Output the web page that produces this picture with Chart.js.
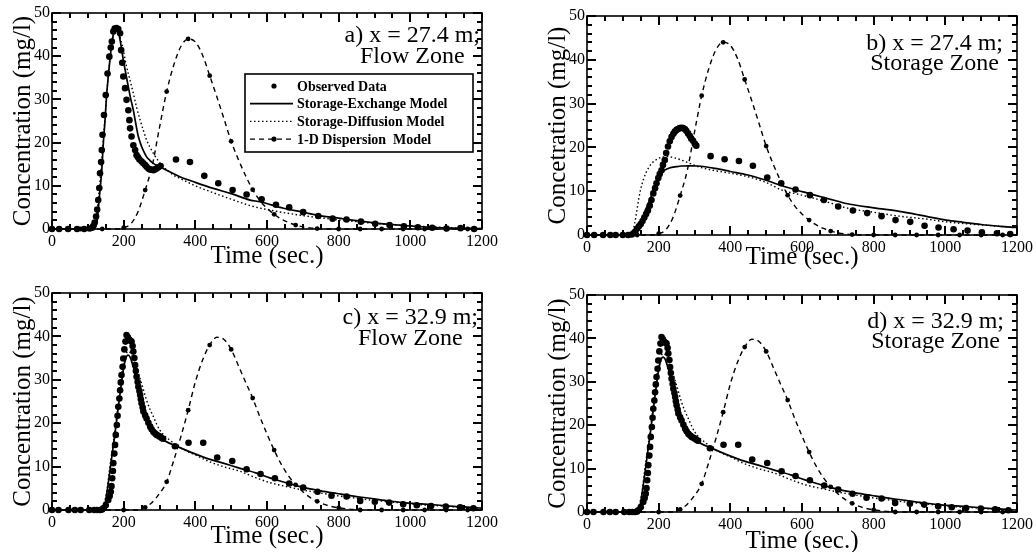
<!DOCTYPE html>
<html>
<head>
<meta charset="utf-8">
<script src="https://cdn.jsdelivr.net/npm/chart.js@4.4.1/dist/chart.umd.min.js"></script>
<style>
  body { margin: 0; background: #fff; }
  canvas { position: absolute; }
</style>
</head>
<body>
<canvas id="panelA" width="518" height="276" style="left:0;top:0"></canvas>
<canvas id="panelB" width="518" height="276" style="left:518px;top:0"></canvas>
<canvas id="panelC" width="518" height="276" style="left:0;top:276px"></canvas>
<canvas id="panelD" width="518" height="276" style="left:518px;top:276px"></canvas>
<script>
// x = 27.4 m, flow zone
const aObsT = [0, 20, 45, 70, 90, 105, 112, 115, 119, 123, 126, 129, 132, 134, 137, 139, 141, 145, 150, 155, 160, 164, 167, 171, 175, 180, 185, 190, 193, 196, 199, 204, 208, 213, 216, 218, 222, 227, 232, 236, 240, 244, 250, 255, 260, 264, 269, 273, 278, 283, 287, 292, 297, 303,
  346, 385, 425, 464, 504, 543, 585, 625, 662, 701, 743, 783, 822, 862, 902, 942, 982, 1021, 1061, 1101, 1140, 1178];
const aObsC = [0, 0, 0, 0, 0, 0.1, 0.3, 0.7, 1.5, 2.9, 4.5, 6.7, 9.5, 12.9, 15.5, 18.3, 21.8, 26.4, 31, 36, 39.9, 42, 43.4, 45.7, 46.4, 46.5, 46.3, 45.3, 41.4, 38.5, 35.3, 32.6, 29.9, 27.5, 25.2, 23.3, 21.4, 19.4, 18.3, 17.1, 16.6, 16.1, 15.6, 15.2, 14.8, 14.4, 14, 13.8, 13.7, 13.6, 13.8, 14, 14.3, 14.6,
  16.1, 15.5, 12.3, 10.6, 9, 8, 6.9, 5.6, 5, 3.9, 3, 2.4, 2.2, 1.7, 1.2, 0.9, 0.6, 0.4, 0.3, 0.1, 0.2, 0];
const aExchT = [0, 115, 120, 125, 129, 134, 139, 143, 148, 152, 157, 162, 167, 172, 177, 181, 186, 192, 199, 206, 213, 220, 227, 234, 241, 250, 257, 264, 273, 283, 301, 330, 357, 400, 450, 500, 553, 580, 646, 700, 739, 800, 832, 900, 925, 1000, 1018, 1100, 1200];
const aExchC = [0, 0, 0.3, 1.5, 4.4, 9, 13.7, 19.5, 25.2, 30.5, 35.3, 39.5, 43, 45.3, 46.4, 46.5, 45.5, 42.8, 39.1, 36, 32.9, 30, 27.5, 24.3, 21.4, 19.1, 17.8, 16.7, 15.9, 15.2, 14.4, 13.2, 12.1, 10.8, 9.4, 8.2, 6.7, 6.3, 4.8, 3.9, 3.2, 2.5, 2.1, 1.4, 1.2, 0.7, 0.6, 0.25, 0.1];
const aDiffT = [0, 110, 115, 120, 125, 130, 135, 140, 145, 150, 155, 160, 165, 170, 175, 180, 186, 193, 200, 208, 218, 227, 236, 246, 255, 264, 273, 283, 294, 306, 320, 339, 370, 400, 450, 500, 553, 600, 646, 700, 739, 800, 850, 900, 950, 1000, 1050, 1100, 1150, 1200];
const aDiffC = [0, 0, 0.4, 1.5, 3.8, 7.5, 12, 17, 22.5, 28, 33.5, 38, 41.8, 44.5, 46, 46.3, 45.5, 43.5, 41, 37.6, 34.4, 31.4, 28.2, 25.2, 22.8, 20.6, 19, 17.5, 16.1, 14.8, 13.7, 12.5, 11.2, 10, 8.4, 6.9, 5.4, 4.5, 3.8, 3.1, 2.7, 2.1, 1.7, 1.3, 1, 0.75, 0.55, 0.35, 0.2, 0.1];

// x = 27.4 m, storage zone
const bObsT = [0, 20, 45, 65, 80, 100, 115, 125, 130, 135, 140, 145, 150, 155, 160, 165, 170, 175, 180, 185, 190, 194, 199, 203, 208, 212, 217, 221, 226, 231, 236, 241, 245, 250, 254, 259, 264, 268, 273, 277, 282, 287, 291, 296, 301, 305,
  345, 384, 424, 463, 503, 542, 582, 622, 661, 701, 742, 782, 822, 861, 902, 942, 981, 1023, 1062, 1102, 1144, 1181];
const bObsC = [0, 0, 0, 0, 0, 0, 0, 0.1, 0.4, 0.8, 1.5, 2, 2.5, 3.2, 4, 4.8, 5.6, 6.7, 8, 9.5, 10.7, 11.8, 13, 13.9, 14.8, 16, 17.1, 18.7, 20.2, 21.4, 22.4, 23.1, 23.6, 24, 24.2, 24.4, 24.5, 24.4, 24.2, 23.8, 23.2, 22.6, 22, 21.5, 20.8, 20.4,
  18, 17.3, 16.9, 15.8, 13.1, 11.8, 10.4, 9.1, 8, 6.5, 5.6, 5, 4.3, 3.4, 3, 2.1, 1.7, 1.3, 1, 0.6, 0.4, 0.2];
const bExchT = [0, 120, 130, 143, 150, 160, 171, 180, 189, 199, 208, 217, 230, 250, 264, 290, 310, 357, 400, 449, 500, 542, 600, 650, 700, 723, 800, 872, 900, 950, 1002, 1050, 1100, 1150, 1187, 1200];
const bExchC = [0, 0, 0.3, 1.9, 3, 5, 7.2, 9, 11, 12.8, 14.1, 14.8, 15.3, 15.6, 15.75, 15.8, 15.75, 15.2, 14.5, 13.7, 12.5, 11.3, 9.9, 8.8, 7.7, 7.2, 6.2, 5.4, 5, 4.2, 3.4, 2.9, 2.4, 2, 1.75, 1.7];
const bDiffT = [0, 120, 125, 130, 135, 140, 145, 150, 158, 165, 171, 180, 190, 199, 212, 226, 245, 264, 285, 310, 350, 400, 449, 500, 542, 600, 650, 700, 723, 800, 872, 950, 1002, 1100, 1200];
const bDiffC = [0, 0, 0.3, 1.5, 3.5, 6, 8.5, 10.5, 12.8, 14.3, 15.2, 16.3, 17, 17.5, 17.8, 17.9, 17.6, 17.1, 16.4, 15.6, 14.8, 14.1, 13.3, 12, 10.3, 9.1, 8, 6.8, 6.2, 5.2, 4.3, 3.6, 3, 2.3, 1.7];

// x = 32.9 m (flow and storage zone records coincide)
const cObsT = [0, 18, 46, 64, 80, 104, 118, 126, 134, 140, 143, 150, 157, 161, 164, 166, 168, 170, 171, 174, 176, 178, 181, 183, 185, 188, 190, 192, 194, 197, 199, 202, 205, 208, 212, 216, 219, 222, 225, 227, 230, 232, 234, 236, 239, 241, 244, 246, 248, 250, 253, 255, 260, 264, 269, 274, 278, 283, 288, 292, 297, 301, 306, 310,
  343, 381, 422, 461, 503, 543, 582, 622, 662, 701, 741, 780, 822, 860, 901, 941, 980, 1018, 1058, 1099, 1139, 1176];
const cObsC = [0, 0, 0, 0, 0, 0, 0, 0, 0, 0.1, 0.4, 1.1, 2.3, 3.2, 4.2, 5.5, 7.3, 9, 10.8, 13, 15, 17.3, 19.6, 21.7, 23.8, 25.7, 27.6, 29.4, 31.1, 33, 34.9, 37, 38.8, 40.3, 39.8, 39.2, 39, 38.8, 37.8, 36.5, 35, 33.4, 32, 30.7, 29.5, 28.4, 27.4, 26.5, 25.5, 24.6, 23.6, 22.7, 21.8, 21.1, 20.1, 19.2, 18.6, 18, 17.6, 17.3, 17.1, 16.9, 16.6, 16.4,
  14.7, 15.5, 15.5, 12.1, 11.3, 9.4, 8.3, 7.3, 6.1, 5.2, 4.2, 3.3, 3.1, 2.1, 1.9, 1.7, 1.3, 1.1, 0.9, 0.8, 0.6, 0.4];
const cExchT = [0, 140, 145, 148, 155, 162, 169, 176, 183, 190, 195, 199, 204, 209, 213, 218, 222, 227, 234, 241, 248, 255, 262, 269, 276, 283, 292, 301, 320, 339, 385, 432, 478, 525, 571, 608, 627, 701, 750, 795, 850, 888, 930, 980, 1030, 1074, 1130, 1185, 1200];
const cExchC = [0, 0, 0.6, 1.5, 5, 9.2, 13.5, 17.7, 22.3, 26.9, 30, 32.3, 34.4, 35.5, 35.7, 35.2, 34.3, 33, 30.8, 28.4, 26.2, 24.2, 22, 20, 18.9, 18, 17.2, 16.5, 15.7, 15, 13.4, 11.9, 10.8, 9.6, 8.5, 7.4, 6.9, 5.2, 4.4, 3.8, 3.1, 2.7, 2.2, 1.7, 1.4, 1.15, 0.8, 0.5, 0.45];
const cDiffT = [0, 135, 140, 145, 150, 155, 160, 168, 175, 183, 190, 195, 200, 206, 212, 218, 225, 231, 236, 243, 250, 257, 264, 273, 283, 292, 301, 315, 329, 345, 370, 400, 432, 470, 525, 570, 608, 627, 660, 701, 750, 795, 850, 888, 940, 980, 1030, 1074, 1130, 1185, 1200];
const cDiffC = [0, 0, 0.5, 1.5, 3, 5.5, 9, 13.8, 18, 23, 28, 31.5, 34, 35.8, 36.5, 36.3, 35.3, 34, 32.8, 31, 29.2, 27.2, 25.3, 23.3, 21.5, 19.8, 18.4, 17, 16.1, 15, 13.8, 12.7, 11.4, 10.2, 8.9, 7.4, 6.3, 5.9, 5.3, 4.6, 3.9, 3.3, 2.7, 2.3, 1.9, 1.6, 1.2, 1, 0.7, 0.5, 0.45];

// 1-D dispersion model, sampled every 20 s from 0 to 1200 s
const abDisp = [0, 0, 0, 0, 0, 0, 0, 0, 0, 0,
  0.3, 1.2, 4, 9, 14.8, 23.5, 31.8, 38, 42.3, 44, 43.3, 40.3, 35.5, 30.6, 25.5, 20.3, 16.1, 12.4, 9.1, 6.6, 4.8, 3.4, 2.3, 1.5, 0.9, 0.5, 0.25, 0.1,
  0, 0, 0, 0, 0, 0, 0, 0, 0, 0, 0, 0, 0, 0, 0, 0, 0, 0, 0, 0, 0, 0, 0];
const cdDisp = [0, 0, 0, 0, 0, 0, 0, 0, 0, 0, 0, 0, 0,
  0.6, 1.8, 3.8, 6.5, 11.5, 17, 23, 29.5, 34.5, 38, 39.8, 39.3, 37, 33.3, 29.5, 25.8, 21.5, 17.5, 13.8, 10.5, 7.9, 5.8, 4.2, 2.9, 2, 1.3, 0.8, 0.5, 0.3, 0.1,
  0, 0, 0, 0, 0, 0, 0, 0, 0, 0, 0, 0, 0, 0, 0, 0, 0, 0];

const xTicks = { min: 0, max: 1200, step: 200, minor: 50 };
const yTicks = { min: 0, max: 50, step: 10, minor: 2 };
const seriesNames = ['Observed Data', 'Storage-Exchange Model', 'Storage-Diffusion Model', '1-D Dispersion  Model'];

const serif = '"Liberation Serif", "Times New Roman", serif';
Chart.defaults.font.family = serif;
Chart.defaults.color = '#000';

const pts = (ts, cs) => ts.map((t, i) => ({ x: t, y: cs[i] }));
const dispPts = vals => vals.map((v, i) => ({ x: i * 20, y: v }));

// box around the plot with inward ticks on all four sides
const frame = {
  id: 'frame',
  afterDraw(chart, args, opts) {
    const ctx = chart.ctx;
    const a = chart.chartArea;
    const xs = chart.scales.x, ys = chart.scales.y;
    ctx.save();
    ctx.fillStyle = opts.tickColor;
    let t = xTicks.min;
    while (t <= xTicks.max) {
      const px = Math.round(xs.getPixelForValue(t));
      const len = t % xTicks.step === 0 ? 9 : 5;
      ctx.fillRect(px - 1, a.bottom - len, 2, len);
      ctx.fillRect(px - 1, a.top, 2, len);
      t += xTicks.minor;
    }
    let v = yTicks.min;
    while (v <= yTicks.max) {
      const py = Math.round(ys.getPixelForValue(v));
      const len = v % yTicks.step === 0 ? 9 : 5;
      ctx.fillRect(a.left, py - 1, len, 2);
      ctx.fillRect(a.right - len, py - 1, len, 2);
      v += yTicks.minor;
    }
    ctx.strokeStyle = '#000';
    ctx.lineWidth = 1.6;
    ctx.strokeRect(a.left, a.top, a.right - a.left, a.bottom - a.top);
    ctx.restore();
  }
};

// two-line panel caption in the upper right corner
const caption = {
  id: 'caption',
  afterDraw(chart, args, opts) {
    const { ctx, chartArea: a } = chart;
    ctx.save();
    ctx.fillStyle = '#000';
    ctx.font = '24px ' + serif;
    ctx.textBaseline = 'alphabetic';
    const w = ctx.measureText(opts.lines[0]).width;
    const cx = a.right - opts.right - w / 2;
    ctx.textAlign = 'center';
    ctx.fillText(opts.lines[0], cx, a.top + opts.base[0]);
    ctx.fillText(opts.lines[1], cx, a.top + opts.base[1]);
    ctx.restore();
  }
};

// boxed legend inside the plot
const legendBox = {
  id: 'legendBox',
  afterDraw(chart, args, opts) {
    if (!opts.show) return;
    const { ctx, chartArea: a } = chart;
    const L = a.left + opts.dx, T = a.top + opts.dy;
    ctx.save();
    ctx.fillStyle = '#fff';
    ctx.fillRect(L, T, opts.w, opts.h);
    ctx.strokeStyle = '#000';
    ctx.lineWidth = 1.6;
    ctx.strokeRect(L, T, opts.w, opts.h);
    ctx.font = 'bold 14px ' + serif;
    ctx.textBaseline = 'middle';
    chart.data.datasets.forEach((ds, i) => {
      const y = T + 12 + i * 17.7;
      ctx.strokeStyle = '#000';
      if (ds.showLine) {
        ctx.lineWidth = ds.borderWidth;
        ctx.setLineDash(ds.borderDash || []);
        ctx.beginPath();
        ctx.moveTo(L + 5, y);
        ctx.lineTo(L + 48, y);
        ctx.stroke();
        ctx.setLineDash([]);
      }
      if (ds.marker) {
        ctx.fillStyle = '#000';
        ctx.beginPath();
        ctx.arc(L + 29, y, 2.6, 0, Math.PI * 2);
        ctx.fill();
      }
      ctx.fillStyle = '#000';
      ctx.fillText(ds.label, L + 52, y + 1);
    });
    ctx.restore();
  }
};

const panels = [
  { id: 'panelA', obs: pts(aObsT, aObsC), exch: pts(aExchT, aExchC), diff: pts(aDiffT, aDiffC), disp: dispPts(abDisp),
    yTitle: 'Concentration (mg/l)', lines: ['a) x = 27.4 m;', 'Flow Zone'], capRight: 2, capBase: [29, 50],
    pad: { top: 13, right: 36 }, yWidth: 52, xHeight: 47, yTitlePad: 10.5, xTitlePad: 7, legend: true },
  { id: 'panelB', obs: pts(bObsT, bObsC), exch: pts(bExchT, bExchC), diff: pts(bDiffT, bDiffC), disp: dispPts(abDisp),
    yTitle: 'Concetration (mg/l)', lines: ['b) x = 27.4 m;', 'Storage Zone'], capRight: 14, capBase: [34, 54],
    pad: { top: 16, right: 18 }, yWidth: 69, xHeight: 41, yTitlePad: 27.5, xTitlePad: 6.5, legend: false },
  { id: 'panelC', obs: pts(cObsT, cObsC), exch: pts(cExchT, cExchC), diff: pts(cDiffT, cDiffC), disp: dispPts(cdDisp),
    yTitle: 'Concentration (mg/l)', lines: ['c) x = 32.9 m;', 'Flow Zone'], capRight: 4, capBase: [31, 52],
    pad: { top: 17, right: 36 }, yWidth: 52, xHeight: 42, yTitlePad: 10.5, xTitlePad: 3.5, legend: false },
  { id: 'panelD', obs: pts(cObsT, cObsC), exch: pts(cExchT, cExchC), diff: pts(cDiffT, cDiffC), disp: dispPts(cdDisp),
    yTitle: 'Concentration (mg/l)', lines: ['d) x = 32.9 m;', 'Storage Zone'], capRight: 13, capBase: [33, 53],
    pad: { top: 19, right: 19 }, yWidth: 69, xHeight: 40, yTitlePad: 27.5, xTitlePad: -1.5, legend: false }
];

panels.forEach(p => {
  new Chart(document.getElementById(p.id), {
    type: 'scatter',
    data: {
      datasets: [
        { label: seriesNames[0], data: p.obs, showLine: false, marker: true,
          pointRadius: 3.3, pointBackgroundColor: '#000', pointBorderWidth: 0, clip: 8 },
        { label: seriesNames[1], data: p.exch, showLine: true, borderColor: '#000', borderWidth: 1.7,
          pointRadius: 0, cubicInterpolationMode: 'monotone', clip: 4 },
        { label: seriesNames[2], data: p.diff, showLine: true, borderColor: '#000', borderWidth: 1.4,
          borderDash: [1.5, 2.5], pointRadius: 0, cubicInterpolationMode: 'monotone', clip: 4 },
        { label: seriesNames[3], data: p.disp, showLine: true, borderColor: '#000', borderWidth: 1.4,
          borderDash: [5, 4], marker: true, cubicInterpolationMode: 'monotone', clip: 8,
          pointRadius: c => (c.dataIndex % 3 === 1 ? 2.4 : 0), pointBackgroundColor: '#000', pointBorderWidth: 0 }
      ]
    },
    options: {
      responsive: false,
      animation: false,
      devicePixelRatio: 1,
      events: [],
      layout: { padding: { top: p.pad.top, right: p.pad.right, left: 0, bottom: 0 } },
      plugins: {
        legend: { display: false },
        tooltip: { enabled: false },
        frame: { tickColor: '#000' },
        caption: { lines: p.lines, right: p.capRight, base: p.capBase },
        legendBox: { show: p.legend, dx: 193, dy: 61, w: 228, h: 78 }
      },
      scales: {
        x: {
          type: 'linear', min: xTicks.min, max: xTicks.max,
          ticks: { stepSize: xTicks.step, padding: 3, font: { size: 16 }, maxRotation: 0, color: '#000',
                   callback: v => String(v) },
          grid: { display: false, drawTicks: false, tickLength: 0 },
          border: { display: false },
          title: { display: true, text: 'Time (sec.)', color: '#000', font: { size: 25, lineHeight: 1 },
                   padding: { top: 0, bottom: p.xTitlePad } },
          afterFit: s => { s.height = p.xHeight; }
        },
        y: {
          min: yTicks.min, max: yTicks.max,
          ticks: { stepSize: yTicks.step, padding: 2, font: { size: 16 }, color: '#000',
                   callback: v => String(v) },
          grid: { display: false, drawTicks: false, tickLength: 0 },
          border: { display: false },
          title: { display: true, text: p.yTitle, color: '#000', font: { size: 25, lineHeight: 1 },
                   padding: { top: p.yTitlePad, bottom: 0 } },
          afterFit: s => { s.width = p.yWidth; }
        }
      }
    },
    plugins: [frame, caption, legendBox]
  });
});
</script>
</body>
</html>
